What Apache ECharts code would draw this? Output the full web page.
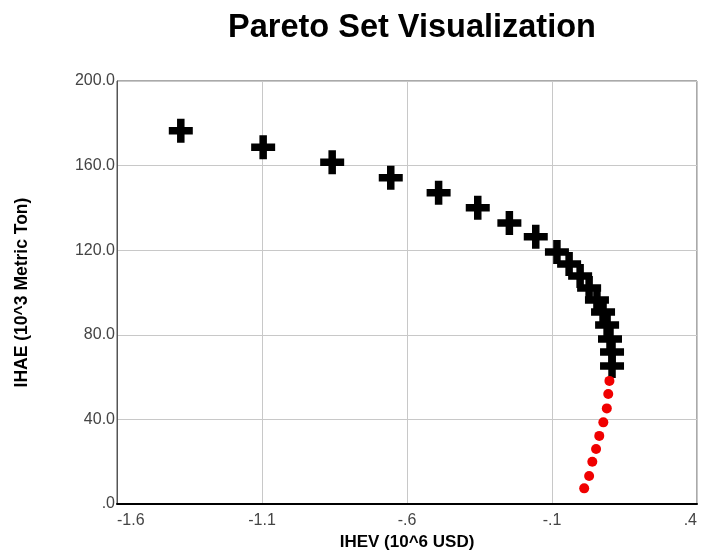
<!DOCTYPE html>
<html>
<head>
<meta charset="utf-8">
<script src="https://cdn.jsdelivr.net/npm/echarts@6/dist/echarts.min.js"></script>
<style>html,body{margin:0;padding:0;background:#fff;}#c{width:702px;height:550px;}</style>
</head>
<body>
<div id="c"></div>
<script>
// Pareto set (crosses)
const paretoX = [-1.380, -1.096, -0.858, -0.656, -0.491, -0.356, -0.247, -0.156, -0.083, -0.041, -0.003, 0.028, 0.055, 0.076, 0.090, 0.100, 0.107, 0.107];
const paretoY = [176.5, 168.7, 161.6, 154.3, 147.2, 140.1, 132.9, 126.4, 119.1, 113.5, 107.8, 102.1, 96.5, 90.8, 84.6, 78.0, 71.9, 65.2];
// Red points
const redX = [0.098, 0.094, 0.089, 0.077, 0.063, 0.052, 0.039, 0.028, 0.011];
const redY = [58.2, 52.0, 45.2, 38.6, 32.2, 26.0, 20.0, 13.2, 7.4];
// Tick labels
const xTickLabels = ['-1.6', '-1.1', '-.6', '-.1', '.4'];
const yTickLabels = ['.0', '40.0', '80.0', '120.0', '160.0', '200.0'];

const crossPath = 'path://M8.25,0 H15.75 V8.25 H24 V15.75 H15.75 V24 H8.25 V15.75 H0 V8.25 H8.25 Z';
const font = 'Liberation Sans, Arial, sans-serif';

const chart = echarts.init(document.getElementById('c'), null, {renderer: 'canvas'});
chart.setOption({
  animation: false,
  backgroundColor: '#fff',
  title: {
    text: 'Pareto Set Visualization',
    left: 407, textAlign: 'center', top: 7,
    textStyle: {fontFamily: font, fontSize: 32.5, fontWeight: 'bold', color: '#000'}
  },
  grid: {left: 117, right: 5, top: 81, bottom: 46, show: true, borderColor: '#555', borderWidth: 1,
         backgroundColor: '#fff', containLabel: false, outerBoundsMode: 'none'},
  xAxis: {
    type: 'value', min: -1.6, max: 0.4, interval: 0.5,
    name: 'IHEV (10^6 USD)', nameLocation: 'middle', nameGap: 27,
    nameTextStyle: {fontFamily: font, fontSize: 17, fontWeight: 'bold', color: '#000'},
    axisLine: {show: true, onZero: false, lineStyle: {color: '#000', width: 2}},
    axisTick: {show: false},
    splitLine: {show: true, lineStyle: {color: '#c8c8c8', width: 1}},
    axisLabel: {
      fontFamily: font, fontSize: 16, color: '#444', margin: 9,
      alignMinLabel: 'left', alignMaxLabel: 'right',
      formatter: (v, i) => xTickLabels[i]
    }
  },
  yAxis: {
    type: 'value', min: 0, max: 200, interval: 40,
    name: 'IHAE (10^3 Metric Ton)', nameLocation: 'middle', nameGap: 86, nameRotate: 90,
    nameTextStyle: {fontFamily: font, fontSize: 17.5, fontWeight: 'bold', color: '#000'},
    axisLine: {show: true, onZero: false, lineStyle: {color: '#555', width: 1}},
    axisTick: {show: false},
    splitLine: {show: true, lineStyle: {color: '#c8c8c8', width: 1}},
    axisLabel: {
      fontFamily: font, fontSize: 16, color: '#444', margin: 2,
      formatter: (v, i) => yTickLabels[i]
    }
  },
  series: [
    {
      type: 'scatter', name: 'Pareto',
      data: paretoX.map((x, i) => [x, paretoY[i]]),
      symbol: crossPath, symbolSize: 24, symbolKeepAspect: true,
      itemStyle: {color: '#000', opacity: 1}
    },
    {
      type: 'scatter', name: 'Other',
      data: redX.map((x, i) => [x, redY[i]]),
      symbol: 'circle', symbolSize: 10,
      itemStyle: {color: '#f00000', opacity: 1}
    }
  ]
});
</script>
</body>
</html>
